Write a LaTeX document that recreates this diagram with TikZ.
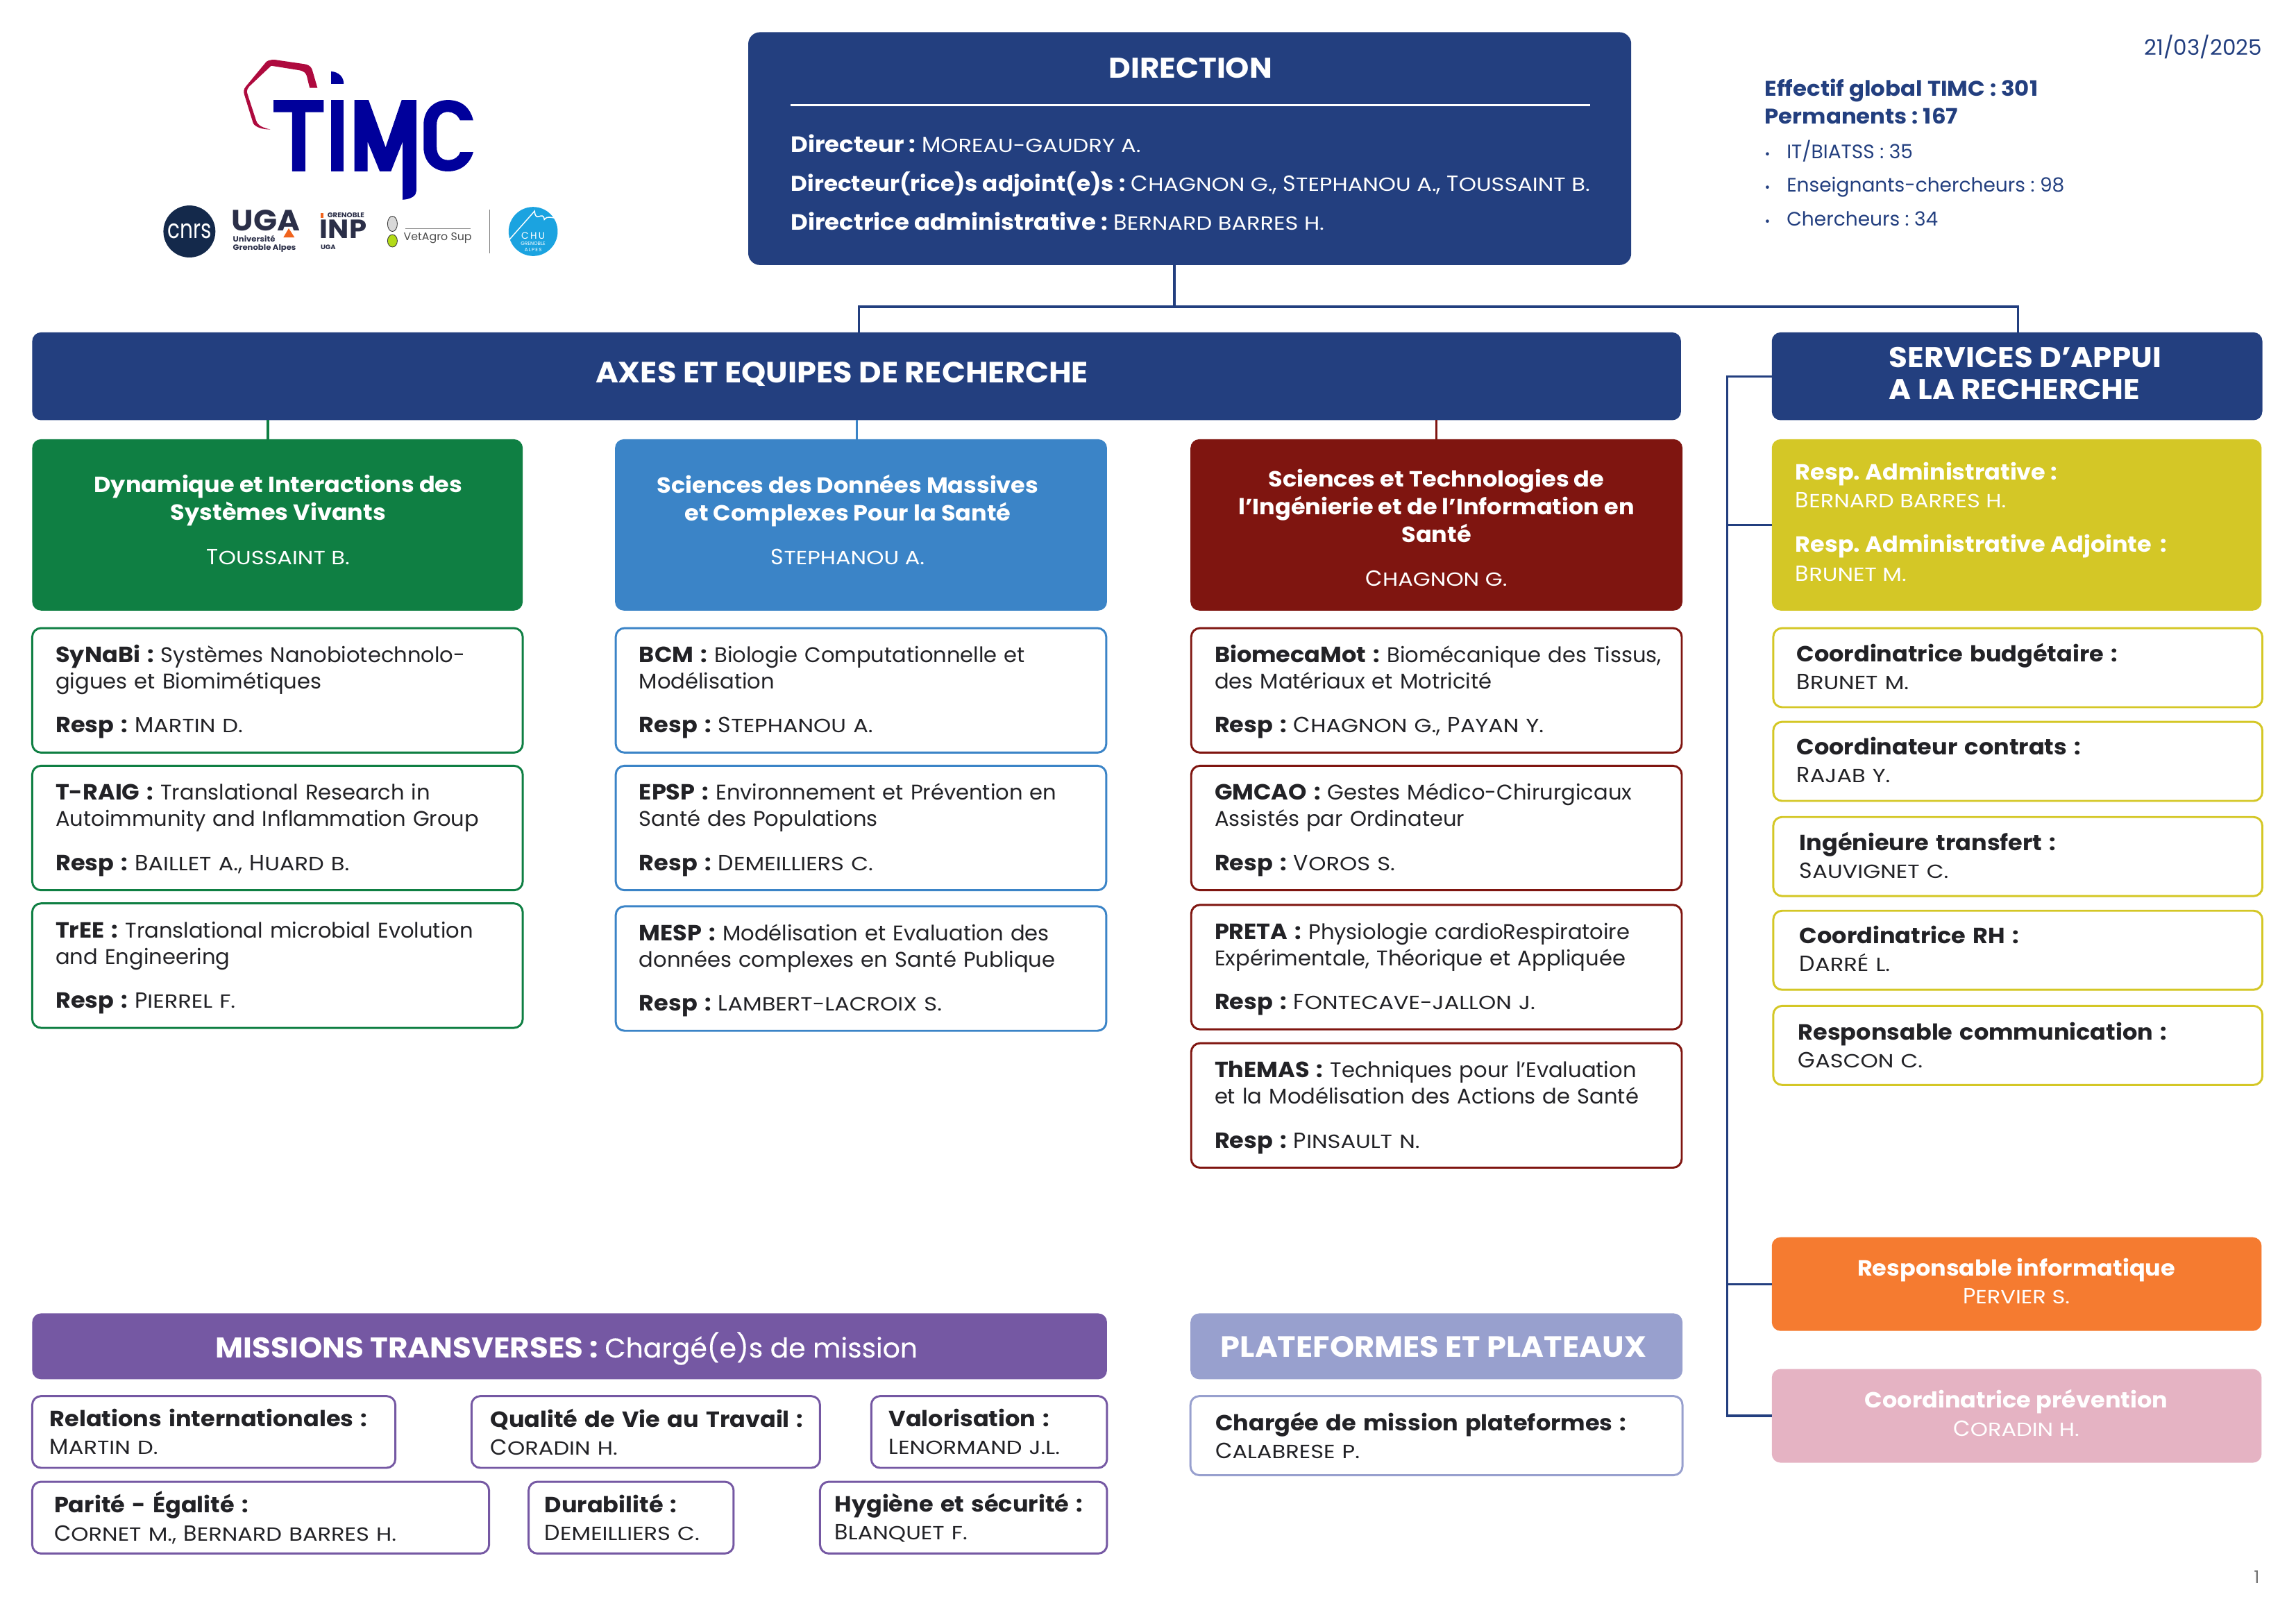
\documentclass[tikz,border=0pt]{standalone}
\usepackage{fontspec}
\setmainfont{Poppins}[BoldFeatures={FakeStretch=1.06}]
\newfontfamily\smfam{Poppins}[FakeStretch=1.17]
\newfontfamily\cnrsfam{Poppins}[FakeStretch=.78]
\definecolor{navy}{HTML}{233F7F}
\definecolor{ink}{HTML}{222226}
\definecolor{vert}{HTML}{0F7F43}
\definecolor{bleu}{HTML}{3B84C7}
\definecolor{rouge}{HTML}{7F1510}
\definecolor{jaune}{HTML}{D4C726}
\definecolor{violet}{HTML}{7558A3}
\definecolor{lilas}{HTML}{98A0CE}
\definecolor{orange}{HTML}{F57B30}
\definecolor{rose}{HTML}{E5B3C3}
\definecolor{logobleu}{HTML}{00009B}
\definecolor{logorouge}{HTML}{AE0A3E}
\definecolor{uganoir}{HTML}{2B2F48}
\definecolor{ugaorange}{HTML}{F0641E}
\definecolor{chubleu}{HTML}{1BA3E0}
\definecolor{cnrsbleu}{HTML}{14294B}
\newcommand{\nm}[2]{{\fontsize{15}{18}\selectfont #1}{\smfam\fontsize{13}{18}\selectfont #2}}
\newcommand{\gras}[1]{{\fontsize{15}{18}\selectfont\bfseries #1}}
\newcommand{\corps}{\fontsize{14.5}{18}\selectfont}
\newcommand{\titre}{\fontsize{19.5}{22.5}\selectfont\bfseries}
\newcommand{\grandtitre}{\fontsize{20}{22.5}\selectfont\bfseries}
\newcommand{\puce}{\makebox[15pt][l]{\fontsize{9}{9}\selectfont•}}
\tikzset{
    boxsize/.code n args={3}{\pgfmathsetmacro\boxtext{#1-2*#3}\tikzset{minimum width=#1pt,minimum height=#2pt,inner xsep=#3pt,text width=\boxtext pt}},
    head/.style={fill=#1,rounded corners=6pt,text=white,anchor=north west,align=center,inner ysep=0pt,outer sep=0pt,font=\corps},
    team/.style={draw=#1,fill=white,line width=1.4pt,rounded corners=6pt,text=ink,anchor=north west,align=left,inner ysep=0pt,outer sep=0pt,font=\corps},
    equipe/.style={team=#1,execute at begin node={\rule{0pt}{14pt}}},
    service/.style={team=jaune,execute at end node={\rule[-2pt]{0pt}{2pt}}},
    link/.style={draw=#1,line width=1.6pt},
    note/.style={anchor=west,inner sep=0pt,text=navy,align=left},
}
\frenchspacing
\begin{document}
\begin{tikzpicture}[x=1pt,y=-1pt]
    \useasboundingbox (0,0) rectangle (1568,1108.7);
    % logo
    \begin{scope}[x=.3325pt,y=-.1935pt]
        \fill[logobleu] (562,353)--(665,353)--(665,396)--(627,396)--(627,605)--(600,605)--(600,396)--(562,396)--cycle;
        \fill[logobleu] (680,353) rectangle (706,605);
        \fill[logobleu] (680,296)--(680,252) .. controls (696,254) and (706,272) .. (706,296)--cycle;
        \fill[logobleu] (728,353)--(757,353)--(792,520)--(825,353)--(855,353)--(855,675) .. controls (855,690) and (845,703) .. (827,705)--(827,500)--(803,605)--(780,605)--(755,500)--(755,605)--(728,605)--cycle;
        \fill[logobleu] (972,425)--(945,425) .. controls (940,405) and (930,395) .. (920,395) .. controls (905,395) and (897,415) .. (897,440)--(897,520) .. controls (897,545) and (905,565) .. (920,565) .. controls (932,565) and (942,555) .. (945,537)--(972,537) .. controls (965,580) and (945,605) .. (920,605) .. controls (890,605) and (870,570) .. (870,520)--(870,440) .. controls (870,390) and (890,353) .. (920,353) .. controls (948,353) and (966,380) .. (972,425)--cycle;
        \fill[logorouge] (652,310)--(641,245) .. controls (638,232) and (632,228) .. (625,226)--(565,211) .. controls (555,210) and (548,214) .. (545,222)--(505,305) .. controls (500,315) and (500,325) .. (502,335)--(520,435) .. controls (525,450) and (540,457) .. (555,457) .. controls (540,450) and (530,445) .. (526,425)--(508,330) .. controls (506,320) and (508,315) .. (512,305)--(557,232)--(615,248) .. controls (625,252) and (628,258) .. (630,268)--(636,310)--cycle;
        \node[circle,fill=cnrsbleu,minimum size=35.5pt,inner sep=0pt,text=white,font=\cnrsfam\fontsize{18}{18}\selectfont] (cnrs) at (389,817) {cnrs};
        \node[inner sep=0pt,text=uganoir,font=\fontsize{20}{20}\selectfont\bfseries] (uga) at (546,778) {UGA};
        \fill[ugaorange] (593,806)--(605,838)--(582,838)--cycle;
        \node[inner sep=0pt,anchor=west,align=left,text=uganoir,font=\fontsize{5.2}{5.6}\selectfont\bfseries] (ugat) at (478,860) {Université\\Grenoble Alpes};
        \node[inner sep=0pt,anchor=west,text=uganoir,font=\fontsize{4.6}{5}\selectfont\bfseries] (inpa) at (672,760) {GRENOBLE};
        \node[inner sep=0pt,text=uganoir,font=\fontsize{18}{18}\selectfont\bfseries] (inp) at (705,810) {INP};
        \fill[ugaorange] (658,768) rectangle (665,752);
        \node[inner sep=0pt,anchor=west,text=uganoir,font=\fontsize{4.4}{5}\selectfont\bfseries] (inpb) at (658,872) {UGA};
        \fill[black!15,draw=black!80,line width=.4pt] (806,790) ellipse [x radius=10,y radius=27];
        \fill[yellow!70!green,draw=black!80,line width=.4pt] (806,850) ellipse [x radius=10,y radius=22];
        \draw[black!50,line width=.5pt] (832,808)--(966,808);
        \node[inner sep=0pt,text=black!70,font=\fontsize{7.5}{8}\selectfont] (vet) at (899,840) {VetAgro Sup};
        \draw[black!50,line width=.5pt] (1006,740)--(1006,893);
        \node[circle,fill=chubleu,minimum size=33.5pt,inner sep=0pt] (chu) at (1095,817) {};
        \node[inner sep=0pt,text=white,font=\fontsize{6.5}{7}\selectfont] (chua) at (1095,832) {C\,H\,U};
        \node[inner sep=0pt,text=white,align=center,font=\fontsize{3.4}{4.2}\selectfont] (chub) at (1095,871) {GRENOBLE\\A\,L\,P\,E\,S};
        \draw[white,line width=.7pt] (1045,848)--(1098,745) .. controls (1100,790) and (1115,740) .. (1118,775) .. controls (1125,760) and (1130,770) .. (1148,770);
    \end{scope}
    % direction
    \node[head=navy,boxsize={603}{159}{0},rounded corners=8pt] (dir) at (511,22) {};
    \node[inner sep=0pt,text=white,font=\titre] (dirtitle) at (813,46.5) {DIRECTION};
    \coordinate (rulea) at (540,72);
    \coordinate (ruleb) at (1086,72);
    \draw[white,line width=1.5pt] (rulea)--(ruleb);
    \node[note,text=white,font=\fontsize{15.2}{26.5}\selectfont] (dirtext) at (540,124.5) {\textbf{Directeur :} \nm{M}{OREAU-GAUDRY A.}\\{\fontsize{14.6}{26.5}\selectfont\textbf{Directeur(rice)s adjoint(e)s :}} \nm{C}{HAGNON G.}, \nm{S}{TEPHANOU A.}, \nm{T}{OUSSAINT B.}\\\textbf{Directrice administrative :} \nm{B}{ERNARD BARRES H.}};
    % effectifs
    \node[note,anchor=east,font=\fontsize{14.7}{16}\selectfont] (date) at (1545,32) {21/03/2025};
    \node[note,font=\fontsize{14.5}{19}\selectfont\bfseries] (effectif) at (1205,69.5) {Effectif global TIMC : 301\\Permanents : 167};
    \node[note,font=\fontsize{13.3}{23}\selectfont] (cat) at (1205,125) {\puce IT/BIATSS : 35\\\puce Enseignants-chercheurs : 98\\\puce Chercheurs : 34};
    \node[note,text=black!55,font=\fontsize{12}{12}\selectfont] (page) at (1539,1077) {1};
    % bandeaux
    \node[head=navy,boxsize={1126}{60}{0}] (axes) at (22,227) {};
    \node[inner sep=0pt,text=white,font=\grandtitre] (axestitre) at (575,255.5) {AXES ET EQUIPES DE RECHERCHE};
    \node[head=navy,boxsize={335}{60}{0}] (serv) at (1210,227) {};
    \node[note,text=white,font=\titre] (servtitre) at (1290,255) {SERVICES D’APPUI\\[-.5pt]A LA RECHERCHE};
    \node[head=vert,boxsize={335}{117}{10}] (dyn) at (22,300) {};
    \node[inner sep=0pt,text=white,align=center,font=\corps] (dyntitre) at (190,355) {\gras{Dynamique et Interactions des}\\[1pt]\gras{Systèmes Vivants}\\[12pt]\nm{T}{OUSSAINT B.}};
    \node[head=bleu,boxsize={336}{117}{10}] (sdm) at (420,300) {};
    \node[inner sep=0pt,text=white,align=center,font=\corps] (sdmtitre) at (579,355) {\gras{Sciences des Données Massives}\\[1pt]\gras{et Complexes Pour la Santé}\\[12pt]\nm{S}{TEPHANOU A.}};
    \node[head=rouge,boxsize={336}{117}{10}] (sti) at (813,300) {};
    \node[inner sep=0pt,text=white,align=center,font=\corps] (stititre) at (981,360.5) {\gras{Sciences et Technologies de}\\[1pt]\gras{l’Ingénierie et de l’Information en}\\[1pt]\gras{Santé}\\[12pt]\nm{C}{HAGNON G.}};
    \node[head=jaune,boxsize={334.5}{117}{16},align=left] (resp) at (1210,300) {};
    \node[note,text=white,font=\corps] (resptext) at (1226,356.5) {\gras{Resp. Administrative :}\\[1pt]\nm{B}{ERNARD BARRES H.}\\[12pt]\gras{Resp. Administrative Adjointe\,\ :}\\[2pt]\nm{B}{RUNET M.}};
    % equipes
    \node[equipe=vert,boxsize={335}{85}{16}] (synabi) at (22,429) {\gras{SyNaBi :} Systèmes Nanobiotechnolo-\\gigues et Biomimétiques\\[12pt]\gras{Resp :} \nm{M}{ARTIN D.}};
    \node[equipe=vert,boxsize={335}{85}{16}] (traig) at (22,523) {\gras{T-RAIG :} Translational Research in\\Autoimmunity and Inflammation Group\\[12pt]\gras{Resp :} \nm{B}{AILLET A.}, \nm{H}{UARD B.}};
    \node[equipe=vert,boxsize={335}{85}{16}] (tree) at (22,617) {\gras{TrEE :} Translational microbial Evolution\\and Engineering\\[12pt]\gras{Resp :} \nm{P}{IERREL F.}};
    \node[equipe=bleu,boxsize={335}{85}{16}] (bcm) at (420.5,429) {\gras{BCM :} Biologie Computationnelle et\\Modélisation\\[12pt]\gras{Resp :} \nm{S}{TEPHANOU A.}};
    \node[equipe=bleu,boxsize={335}{85}{16}] (epsp) at (420.5,523) {\mbox{\gras{EPSP :} Environnement et Prévention en}\\Santé des Populations\\[12pt]\gras{Resp :} \nm{D}{EMEILLIERS C.}};
    \node[equipe=bleu,boxsize={335}{85}{16}] (mesp) at (420.5,619) {\mbox{\gras{MESP :} Modélisation et Evaluation des}\\données complexes en Santé Publique\\[12pt]\gras{Resp :} \nm{L}{AMBERT-LACROIX S.}};
    \node[equipe=rouge,boxsize={335}{85}{16}] (biomeca) at (813.5,429) {\mbox{\gras{BiomecaMot :} Biomécanique des Tissus,}\\des Matériaux et Motricité\\[12pt]\gras{Resp :} \nm{C}{HAGNON G.}, \nm{P}{AYAN Y.}};
    \node[equipe=rouge,boxsize={335}{85}{16}] (gmcao) at (813.5,523) {\gras{GMCAO :} Gestes Médico-Chirurgicaux\\Assistés par Ordinateur\\[12pt]\gras{Resp :} \nm{V}{OROS S.}};
    \node[equipe=rouge,boxsize={335}{85}{16}] (preta) at (813.5,618) {\mbox{\gras{PRETA :} Physiologie cardioRespiratoire}\\\mbox{Expérimentale, Théorique et Appliquée}\\[12pt]\gras{Resp :} \nm{F}{ONTECAVE-JALLON J.}};
    \node[equipe=rouge,boxsize={335}{85}{16}] (themas) at (813.5,712.5) {\gras{ThEMAS :} Techniques pour l’Evaluation\\\mbox{et la Modélisation des Actions de Santé}\\[12pt]\gras{Resp :} \nm{P}{INSAULT N.}};
    % services
    \node[service,boxsize={334}{54}{16}] (budget) at (1211,429) {\gras{Coordinatrice budgétaire :}\\[1pt]\nm{B}{RUNET M.}};
    \node[service,boxsize={334}{54}{16}] (contrats) at (1211,493) {\gras{Coordinateur contrats :}\\[1pt]\nm{R}{AJAB Y.}};
    \node[service,boxsize={334}{54}{18}] (transfert) at (1211,558) {\gras{Ingénieure transfert :}\\[1pt]\nm{S}{AUVIGNET C.}};
    \node[service,boxsize={334}{54}{18}] (rh) at (1211,622) {\gras{Coordinatrice RH :}\\[1pt]\nm{D}{ARRÉ L.}};
    \node[team=jaune,boxsize={334}{54}{17}] (comm) at (1211,687) {\gras{Responsable communication :}\\[1pt]\nm{G}{ASCON C.}};
    \node[head=orange,boxsize={334.5}{64}{10}] (info) at (1210,845) {};
    \node[inner sep=0pt,text=white,align=center,font=\corps] (infotext) at (1377,875) {\gras{Responsable informatique}\\[1pt]\nm{P}{ERVIER S.}};
    \node[head=rose,boxsize={334.5}{64}{10}] (prev) at (1210,935) {};
    \node[inner sep=0pt,text=white,align=center,font=\corps] (prevtext) at (1377,965) {\gras{Coordinatrice prévention}\\[1pt]\nm{C}{ORADIN H.}};
    % missions
    \node[head=violet,boxsize={734}{45}{0}] (miss) at (22,897) {};
    \node[inner sep=0pt,text=white,font=\titre] (misstitre) at (387,921) {MISSIONS TRANSVERSES : {\mdseries\fontsize{18.6}{22}\selectfont\addfontfeature{FakeBold=.3}Chargé(e)s de mission}};
    \node[head=lilas,boxsize={336}{45}{0}] (plat) at (813,897) {};
    \node[inner sep=0pt,text=white,font=\grandtitre] (plattitre) at (979,920) {PLATEFORMES ET PLATEAUX};
    \node[team=violet,boxsize={248}{49}{12}] (relint) at (22,953.5) {\gras{Relations internationales :}\\[1pt]\nm{M}{ARTIN D.}};
    \node[team=violet,boxsize={238}{49}{13}] (qvt) at (322,953.5) {\mbox{\gras{Qualité de Vie au Travail :}}\\[1pt]\nm{C}{ORADIN H.}};
    \node[team=violet,boxsize={161}{49}{12}] (valo) at (595,953.5) {\gras{Valorisation :}\\[1pt]\nm{L}{ENORMAND J.L.}};
    \node[team=violet,boxsize={312}{49}{15}] (parite) at (22,1012) {\gras{Parité - Égalité :}\\[1pt]\nm{C}{ORNET M.}, \nm{B}{ERNARD BARRES H.}};
    \node[team=violet,boxsize={140}{49}{11}] (dura) at (361,1012) {\gras{Durabilité :}\\[1pt]\nm{D}{EMEILLIERS C.}};
    \node[team=violet,boxsize={196}{49}{10}] (hyg) at (560,1012) {\mbox{\gras{Hygiène et sécurité :}}\\[1pt]\nm{B}{LANQUET F.}};
    \node[team=lilas,boxsize={336}{54}{17}] (charge) at (813,953.5) {\gras{Chargée de mission plateformes :}\\[1pt]\nm{C}{ALABRESE P.}};
    % liens
    \coordinate (busl) at (586.5,209.5);
    \coordinate (busr) at (1378,209.5);
    \coordinate (trunk) at (1179.5,257);
    \draw[link=navy] (axes.north-|busl)--(busl)--(busr)--(serv.north-|busr);
    \draw[link=navy] ([xshift=-10.5pt]dir.south)--([xshift=-10.5pt]dir.south|-busl);
    \draw[link=vert] ([xshift=-6.5pt]dyn.north)--([xshift=-6.5pt]dyn.north|-axes.south);
    \draw[link=bleu] ([xshift=-3pt]sdm.north)--([xshift=-3pt]sdm.north|-axes.south);
    \draw[link=rouge] (sti.north)--(sti.north|-axes.south);
    \draw[link=navy] (serv.west|-trunk)--(trunk)--(trunk|-prev.west)--(prev.west);
    \draw[link=navy] (trunk|-resp.west)--(resp.west);
    \draw[link=navy] (trunk|-info.west)--(info.west);
\end{tikzpicture}
\end{document}
